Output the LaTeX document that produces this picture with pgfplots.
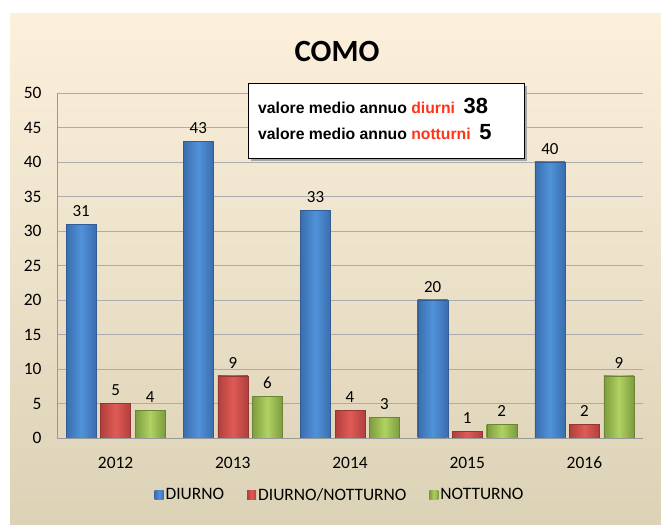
\documentclass[border=0pt]{standalone}
\usepackage{fontspec}
\setmainfont{Carlito}
\newfontfamily\boxfont{Liberation Sans}
\usepackage{pgfplots}
\pgfplotsset{compat=1.18}
\definecolor{bgtop}{HTML}{FCF0DC}
\definecolor{bgbot}{HTML}{DCD2B6}
\definecolor{bluec}{HTML}{5092DA}
\definecolor{blued}{HTML}{3A6EAE}
\definecolor{redc}{HTML}{E05A56}
\definecolor{redd}{HTML}{B0403D}
\definecolor{greenc}{HTML}{AFD262}
\definecolor{greend}{HTML}{7E9C3E}
\definecolor{txtred}{HTML}{FF3318}
\pgfplotsset{
  sblue/.style={draw=blued!85!black, left color=blued, right color=blued, middle color=bluec, bar shift=-34.5bp},
  sred/.style={draw=redd!85!black, left color=redd, right color=redd, middle color=redc, bar shift=0bp},
  sgreen/.style={draw=greend!85!black, left color=greend, right color=greend, middle color=greenc, bar shift=34.5bp},
}
\begin{document}
\begin{tikzpicture}
\path[use as bounding box] (0,0) rectangle (661bp,525bp);
\shade[top color=bgtop, bottom color=bgbot] (10bp,0) rectangle (661bp,511bp);
\begin{axis}[
  at={(57bp,87bp)}, anchor=south west,
  scale only axis, width=586bp, height=345bp,
  ymin=0, ymax=50, ytick={0,5,...,50},
  xmin=-0.5, xmax=4.5, xtick={0,1,2,3,4},
  xticklabels={2012,2013,2014,2015,2016},
  ybar, bar width=30bp,
  axis lines=left,
  axis line style={draw=gray!80, -},
  x axis line style={-}, y axis line style={-},
  ymajorgrids, grid style={draw=gray!65, line width=0.8bp},
  major tick length=0pt,
  tick label style={font=\fontsize{17.5}{20}\selectfont},
  /pgf/number format/assume math mode=true,
  xticklabel style={yshift=-15bp, text height=12bp, text depth=0pt},
  yticklabel style={xshift=-12bp},
  nodes near coords,
  nodes near coords style={font=\fontsize{17}{19}\selectfont, yshift=4bp},
  legend style={at={(0.483,-0.165)}, anchor=center, draw=none, fill=none,
    legend columns=-1, font=\fontsize{17.5}{20}\selectfont,
    /tikz/every even column/.append style={column sep=21bp}},
  legend image code/.code={\draw[#1, draw=none] (0bp,-4.5bp) rectangle (9bp,4.5bp);},
]
\addplot[sblue] coordinates {(0,31)};
\addplot[sred] coordinates {(0,5)};
\addplot[sgreen] coordinates {(0,4)};
\addplot[sblue, forget plot] coordinates {(1,43)};
\addplot[sblue, forget plot] coordinates {(2,33)};
\addplot[sblue, forget plot] coordinates {(3,20)};
\addplot[sblue, forget plot] coordinates {(4,40)};
\addplot[sred, forget plot] coordinates {(1,9)};
\addplot[sred, forget plot] coordinates {(2,4)};
\addplot[sred, forget plot] coordinates {(3,1)};
\addplot[sred, forget plot] coordinates {(4,2)};
\addplot[sgreen, forget plot] coordinates {(1,6)};
\addplot[sgreen, forget plot] coordinates {(2,3)};
\addplot[sgreen, forget plot] coordinates {(3,2)};
\addplot[sgreen, forget plot] coordinates {(4,9)};
\legend{DIURNO, DIURNO/NOTTURNO, NOTTURNO}
\end{axis}
\node[font=\bfseries\fontsize{31}{34}\selectfont] at (337bp,474bp) {COMO};
\fill[black!35] (251bp,364bp) rectangle (527bp,439bp);
\node[draw=black, line width=0.8bp, fill=white, minimum width=276bp, minimum height=75bp, anchor=north west, inner sep=0pt] at (248bp,442bp) {};
\node[anchor=base west, inner sep=0pt, font=\boxfont\bfseries\fontsize{15.8}{18}\selectfont] at (258bp,411bp) {valore medio annuo \textcolor{txtred}{diurni}\ \ {\fontsize{22}{24}\selectfont 38}};
\node[anchor=base west, inner sep=0pt, font=\boxfont\bfseries\fontsize{15.8}{18}\selectfont] at (258bp,385bp) {valore medio annuo \textcolor{txtred}{notturni}\ \ {\fontsize{22}{24}\selectfont 5}};
\end{tikzpicture}
\end{document}
